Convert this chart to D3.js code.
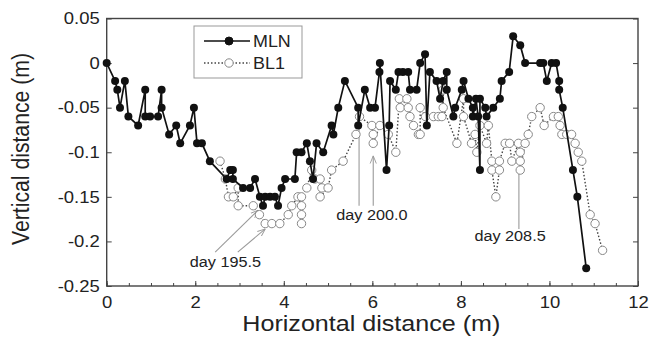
<!DOCTYPE html>
<html>
<head>
<meta charset="utf-8">
<script src="https://cdn.jsdelivr.net/npm/d3@7"></script>
<style>
  body { margin: 0; background: #fff; }
  svg text { font-family: "Liberation Sans", Arial, sans-serif; fill: #222; }
</style>
</head>
<body>
<div id="chart"></div>
<script>
// MLN profile (filled circles, solid line)
const mlnX = [0, 0.19, 0.24, 0.30, 0.41, 0.49, 0.71, 0.87, 0.87, 0.98,
  1.16, 1.24, 1.24, 1.41, 1.57, 1.66, 1.88, 1.97, 2.04, 2.15,
  2.33, 2.71, 2.79, 2.85, 2.85, 3.08, 3.24, 3.35, 3.46, 3.53,
  3.58, 3.69, 3.80, 3.87, 3.95, 4.03, 4.25, 4.29, 4.40, 4.52,
  4.59, 4.66, 4.74, 4.89, 5.08, 5.12, 5.23, 5.38, 5.68, 5.68,
  5.83, 5.95, 6.06, 6.16, 6.17, 6.32, 6.38, 6.40, 6.53, 6.59,
  6.69, 6.81, 6.85, 7.00, 7.08, 7.19, 7.23, 7.30, 7.45, 7.53,
  7.60, 7.68, 7.68, 7.83, 7.87, 8.02, 8.06, 8.17, 8.27, 8.27,
  8.34, 8.39, 8.43, 8.43, 8.55, 8.58, 8.73, 8.88, 8.92, 9.09,
  9.18, 9.34, 9.45, 9.79, 9.86, 9.94, 10.05, 10.15, 10.22, 10.22,
  10.30, 10.53, 10.63, 10.83];
const mlnY = [0, -0.02, -0.03, -0.05, -0.02, -0.06, -0.07, -0.03, -0.06, -0.06,
  -0.06, -0.03, -0.05, -0.08, -0.07, -0.09, -0.07, -0.05, -0.09, -0.09,
  -0.11, -0.13, -0.12, -0.12, -0.13, -0.14, -0.14, -0.13, -0.15, -0.16,
  -0.15, -0.15, -0.15, -0.16, -0.14, -0.13, -0.13, -0.10, -0.10, -0.09,
  -0.11, -0.13, -0.09, -0.10, -0.07, -0.08, -0.05, -0.02, -0.05, -0.07,
  -0.03, -0.05, -0.05, -0.01, 0, -0.12, -0.07, -0.02, -0.03, -0.01,
  -0.01, -0.01, -0.03, -0.03, 0, 0.01, -0.07, -0.01, -0.02, -0.04,
  -0.02, -0.01, -0.03, -0.06, -0.05, -0.03, -0.02, -0.04, -0.05, -0.06,
  -0.04, -0.06, -0.12, -0.04, -0.05, -0.06, -0.05, -0.04, -0.02, -0.01,
  0.03, 0.02, 0, 0, 0, -0.02, 0, 0, -0.02, -0.03,
  -0.05, -0.12, -0.15, -0.23];

// BL1 profile (open circles, dotted line)
const bl1X = [2.56, 2.68, 2.75, 2.86, 2.97, 2.97, 3.31, 3.45, 3.58, 3.73,
  3.91, 4.10, 4.18, 4.32, 4.40, 4.40, 4.40, 4.40, 4.52, 4.63,
  4.70, 4.82, 4.86, 4.82, 5.00, 5.08, 5.34, 5.63, 5.71, 5.99,
  6.02, 6.02, 6.17, 6.36, 6.53, 6.61, 6.63, 6.78, 6.81, 6.85,
  6.93, 7.04, 7.08, 7.08, 7.20, 7.38, 7.49, 7.57, 7.60, 7.60,
  7.91, 8.06, 8.06, 8.24, 8.32, 8.36, 8.43, 8.58, 8.62, 8.70,
  8.70, 8.79, 8.87, 8.87, 9.00, 9.10, 9.15, 9.30, 9.34, 9.34,
  9.34, 9.45, 9.52, 9.60, 9.79, 9.88, 10.09, 10.20, 10.24, 10.28,
  10.39, 10.50, 10.58, 10.65, 10.73, 10.92, 11.03, 11.20];
const bl1Y = [-0.11, -0.13, -0.15, -0.15, -0.14, -0.16, -0.16, -0.17, -0.18, -0.18,
  -0.18, -0.17, -0.16, -0.15, -0.16, -0.17, -0.18, -0.15, -0.14, -0.12,
  -0.13, -0.13, -0.14, -0.15, -0.14, -0.12, -0.11, -0.08, -0.06, -0.07,
  -0.08, -0.09, -0.07, -0.08, -0.10, -0.04, -0.05, -0.04, -0.05, -0.06,
  -0.07, -0.08, -0.08, -0.05, -0.06, -0.06, -0.06, -0.06, -0.03, -0.05,
  -0.09, -0.04, -0.06, -0.09, -0.08, -0.10, -0.07, -0.09, -0.07, -0.11,
  -0.12, -0.15, -0.12, -0.11, -0.09, -0.09, -0.11, -0.09, -0.10, -0.11,
  -0.12, -0.09, -0.08, -0.06, -0.05, -0.07, -0.06, -0.06, -0.07, -0.08,
  -0.08, -0.08, -0.09, -0.10, -0.11, -0.17, -0.18, -0.21];

const xTicks = [0, 2, 4, 6, 8, 10, 12];
const xMinorTicks = d3.range(0, 12.01, 0.5);
const yTicks = [0.05, 0, -0.05, -0.1, -0.15, -0.2, -0.25];
const yTickLabels = ['0.05', '0', '-0.05', '-0.1', '-0.15', '-0.2', '-0.25'];

const W = 649, H = 354;
const margin = {top: 18.5, right: 11, bottom: 68, left: 106.7};
const width = W - margin.left - margin.right;
const height = H - margin.top - margin.bottom;
const stretch = 1.12; // the source figure is a bit wider than tall

const x = d3.scaleLinear().domain([0, 12]).range([0, width]);
const y = d3.scaleLinear().domain([-0.25, 0.05]).range([height, 0]);

const svg = d3.select('#chart').append('svg')
  .attr('width', W).attr('height', H);
const g = svg.append('g')
  .attr('transform', `translate(${margin.left},${margin.top})`);

// axes (ticks inside the frame)
const xAxis = g.append('g')
  .attr('transform', `translate(0,${height})`)
  .call(d3.axisBottom(x).tickValues(xTicks).tickSize(-5).tickPadding(10).tickFormat(d3.format('d')));
g.append('g')
  .attr('transform', `translate(0,${height})`)
  .call(d3.axisBottom(x).tickValues(xMinorTicks).tickSize(-3).tickFormat(''));
const yAxis = g.append('g')
  .call(d3.axisLeft(y).tickValues(yTicks).tickSize(-5).tickPadding(7)
    .tickFormat((d, i) => yTickLabels[i]));
g.append('g')
  .attr('transform', `translate(${width},0)`)
  .call(d3.axisRight(y).tickValues(yTicks).tickSize(-5).tickFormat(''));

g.selectAll('.domain').remove();
g.selectAll('.tick line').attr('stroke', '#444').attr('stroke-width', 1);
xAxis.selectAll('text').attr('font-size', 16.5).attr('fill', '#222')
  .attr('transform', `scale(${stretch},1)`);
yAxis.selectAll('text').attr('font-size', 16.5).attr('fill', '#222')
  .attr('x', -7 / stretch)
  .attr('transform', `scale(${stretch},1)`);

// frame
g.append('rect')
  .attr('width', width).attr('height', height)
  .attr('fill', 'none').attr('stroke', '#444').attr('stroke-width', 1.4);

// axis titles
svg.append('text')
  .attr('transform', `translate(${margin.left + width / 2 - 1},331)`)
  .attr('text-anchor', 'middle').attr('font-size', 22)
  .attr('textLength', 258).attr('lengthAdjust', 'spacingAndGlyphs')
  .text('Horizontal distance (m)');
svg.append('text')
  .attr('transform', `translate(29,149) scale(${stretch},1) rotate(-90)`)
  .attr('text-anchor', 'middle').attr('font-size', 21)
  .attr('textLength', 192).attr('lengthAdjust', 'spacingAndGlyphs')
  .text('Vertical distance (m)');

// annotations
const annoColor = '#9a9a9a';
const defs = svg.append('defs');
defs.append('marker')
  .attr('id', 'arr').attr('viewBox', '0 0 10 10')
  .attr('refX', 10).attr('refY', 5)
  .attr('markerWidth', 7).attr('markerHeight', 7)
  .attr('orient', 'auto')
  .append('path').attr('d', 'M0,1 L10,5 L0,9')
  .attr('fill', 'none').attr('stroke', annoColor).attr('stroke-width', 1.2);

const arrows = [
  {x1: 2.45, y1: -0.212, x2: 3.42, y2: -0.165},
  {x1: 2.96, y1: -0.212, x2: 3.58, y2: -0.186},
  {x1: 5.70, y1: -0.160, x2: 5.70, y2: -0.064, head: false},
  {x1: 6.02, y1: -0.160, x2: 6.02, y2: -0.104},
  {x1: 9.31, y1: -0.186, x2: 9.31, y2: -0.120, head: false}
];
g.selectAll('.anno')
  .data(arrows)
  .enter().append('line')
  .attr('class', 'anno')
  .attr('x1', d => x(d.x1)).attr('y1', d => y(d.y1))
  .attr('x2', d => x(d.x2)).attr('y2', d => y(d.y2))
  .attr('stroke', annoColor).attr('stroke-width', 1.1)
  .attr('marker-end', d => d.head === false ? null : 'url(#arr)');

const notes = [
  {x: 2.68, y: -0.229, text: 'day 195.5'},
  {x: 5.99, y: -0.176, text: 'day 200.0'},
  {x: 9.11, y: -0.200, text: 'day 208.5'}
];
g.selectAll('.note')
  .data(notes)
  .enter().append('text')
  .attr('class', 'note')
  .attr('transform', d => `translate(${x(d.x)},${y(d.y)}) scale(${stretch},1)`)
  .attr('text-anchor', 'middle').attr('font-size', 14.5)
  .text(d => d.text);

// series
const bl1 = bl1X.map((v, i) => ({x: v, y: bl1Y[i]}));
const mln = mlnX.map((v, i) => ({x: v, y: mlnY[i]}));
const line = d3.line().x(d => x(d.x)).y(d => y(d.y));

g.append('path').datum(bl1)
  .attr('d', line).attr('fill', 'none')
  .attr('stroke', '#444').attr('stroke-width', 1.4)
  .attr('stroke-dasharray', '1.5,2');
g.selectAll('.bl1')
  .data(bl1)
  .enter().append('circle')
  .attr('class', 'bl1')
  .attr('cx', d => x(d.x)).attr('cy', d => y(d.y)).attr('r', 4.2)
  .attr('fill', '#fff').attr('stroke', '#888').attr('stroke-width', 1);

g.append('path').datum(mln)
  .attr('d', line).attr('fill', 'none')
  .attr('stroke', '#111').attr('stroke-width', 1.7);
g.selectAll('.mln')
  .data(mln)
  .enter().append('circle')
  .attr('class', 'mln')
  .attr('cx', d => x(d.x)).attr('cy', d => y(d.y)).attr('r', 4)
  .attr('fill', '#111');

// legend
const legend = svg.append('g').attr('transform', 'translate(194,26)');
legend.append('rect')
  .attr('width', 108).attr('height', 52)
  .attr('fill', '#fff').attr('stroke', '#999').attr('stroke-width', 1);
const legendItems = [
  {name: 'MLN', dash: null, stroke: '#111', fill: '#111', mstroke: '#111'},
  {name: 'BL1', dash: '1.5,2', stroke: '#444', fill: '#fff', mstroke: '#888'}
];
const li = legend.selectAll('.li')
  .data(legendItems)
  .enter().append('g')
  .attr('transform', (d, i) => `translate(0,${15 + i * 22})`);
li.append('line')
  .attr('x1', 10).attr('x2', 56)
  .attr('stroke', d => d.stroke).attr('stroke-width', d => d.dash ? 1.4 : 1.7)
  .attr('stroke-dasharray', d => d.dash);
li.append('circle')
  .attr('cx', 35).attr('r', d => d.dash ? 4.2 : 4)
  .attr('fill', d => d.fill).attr('stroke', d => d.mstroke);
li.append('text')
  .attr('transform', `translate(59,6) scale(${stretch},1)`)
  .attr('font-size', 16)
  .text(d => d.name);
</script>
</body>
</html>
